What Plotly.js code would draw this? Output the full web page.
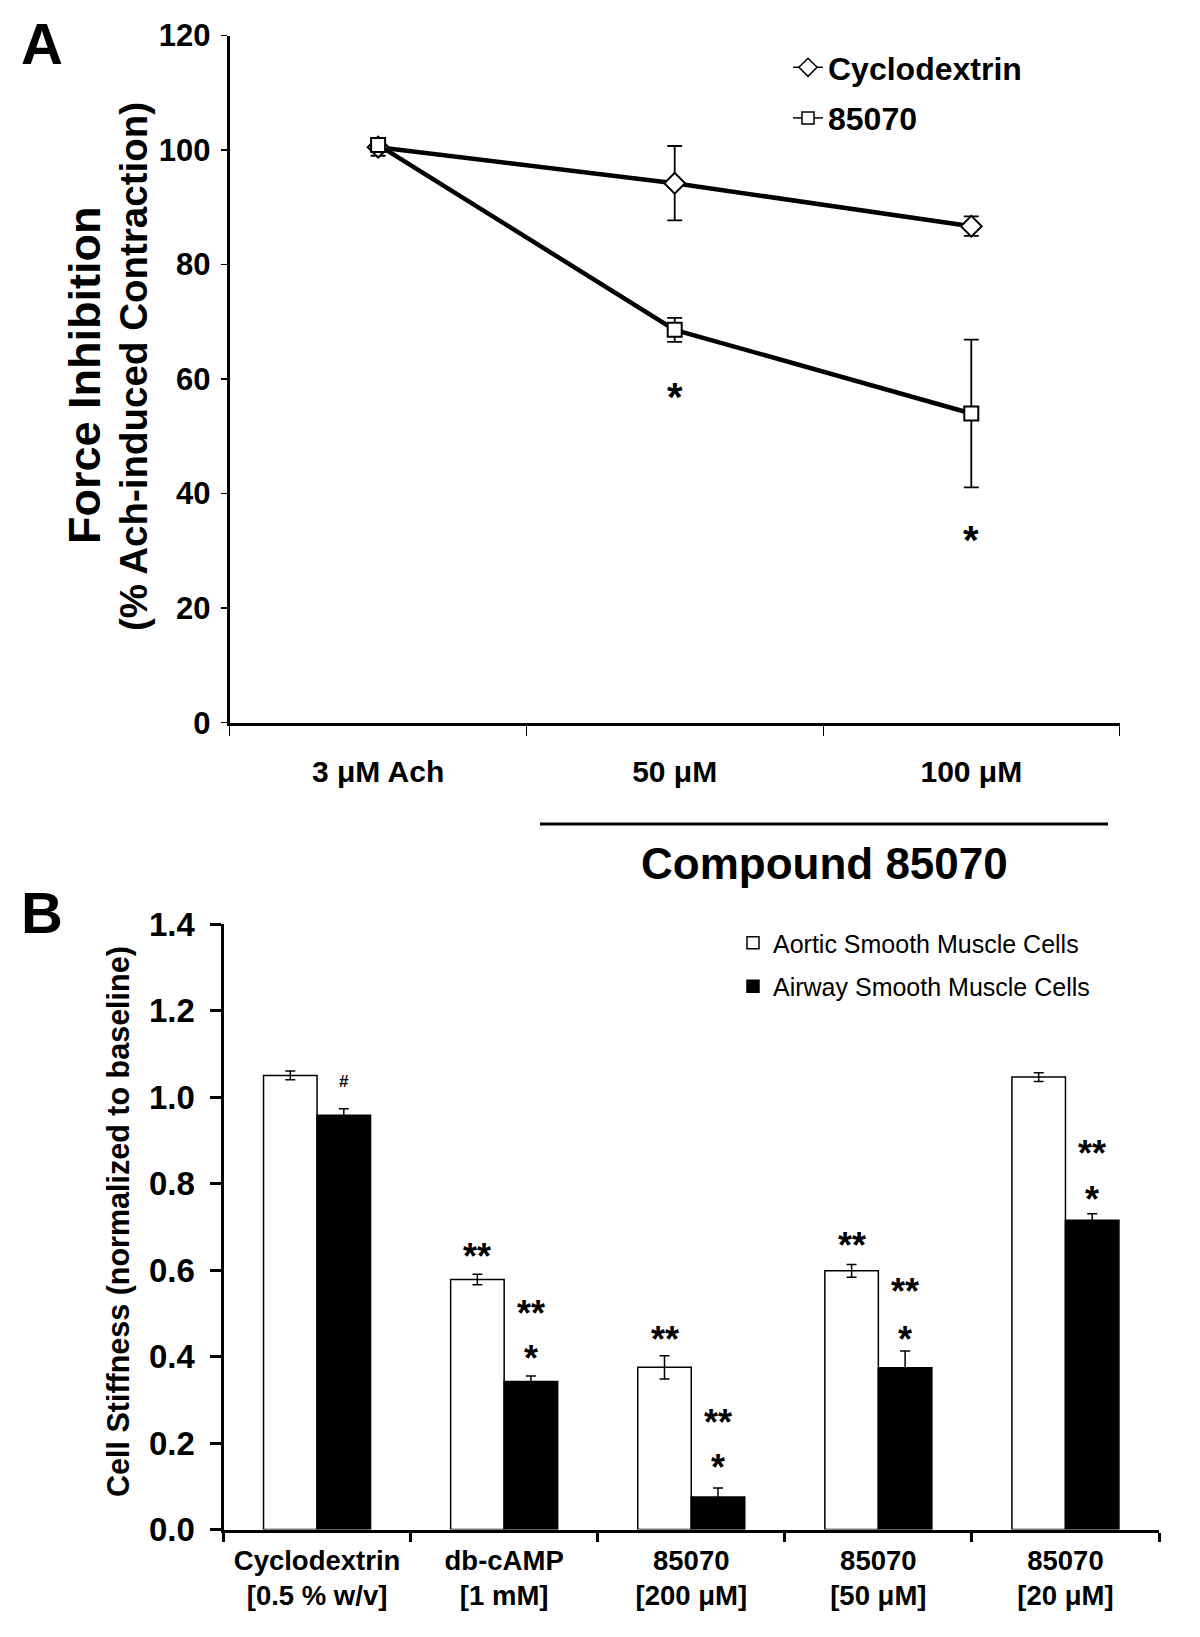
<!DOCTYPE html>
<html><head><meta charset="utf-8">
<script src="https://cdn.plot.ly/plotly-3.0.1.min.js"></script>
<style>html,body{margin:0;padding:0;background:#fff}#chart{width:1200px;height:1637px}</style>
</head><body><div id="chart"></div>
<script>
// ---------- Panel A data ----------
const doseLabels = ['3 μM Ach', '50 μM', '100 μM'];
const cycloForce = [100.5, 94.2, 86.7];
const cycloErr   = [1.5, 6.5, 1.7];
const cmpdForce  = [100.9, 68.6, 54.0];
const cmpdErr    = [1.0, 2.1, 12.9];
const forceStarText = ['', '*', '*'];
const forceStarY    = [null, 58.4, 33.4];

// ---------- Panel B data ----------
const treatLabels = ['Cyclodextrin<br>[0.5 % w/v]', 'db-cAMP<br>[1 mM]', '85070<br>[200 μM]', '85070<br>[50 μM]', '85070<br>[20 μM]'];
const aorticStiff = [1.050, 0.578, 0.375, 0.598, 1.046];
const aorticErr   = [0.010, 0.012, 0.027, 0.015, 0.010];
const airwayStiff = [0.958, 0.342, 0.075, 0.374, 0.715];
const airwayErr   = [0.015, 0.013, 0.021, 0.039, 0.015];
const aorticMarkText = [[], ['**'], ['**'], ['**'], []];
const aorticMarkY    = [[], [0.649], [0.457], [0.676], []];
const airwayMarkText = [['#'], ['**', '*'], ['**', '*'], ['**', '*'], ['**', '*']];
const airwayMarkY    = [[1.035], [0.519, 0.415], [0.267, 0.161], [0.569, 0.457], [0.889, 0.781]];

// ---------- helpers ----------
const W = 1200, H = 1637;
const px = x => x / W, py = y => 1 - y / H;
const FONT = 'Liberation Sans, Arial, Helvetica, sans-serif';
const bold = s => ({family: FONT, size: s, color: '#000', weight: 700});
const plain = s => ({family: FONT, size: s, color: '#000'});

const traces = [
  {type: 'scatter', mode: 'lines+markers', x: doseLabels, y: cycloForce, xaxis: 'x', yaxis: 'y',
   line: {color: '#000', width: 4.5}, showlegend: false, cliponaxis: false,
   marker: {symbol: 'diamond', size: 16, color: '#fff', line: {color: '#000', width: 2}},
   error_y: {type: 'data', array: cycloErr, visible: true, color: '#000', thickness: 1.8, width: 7.5}},
  {type: 'scatter', mode: 'lines+markers', x: doseLabels, y: cmpdForce, xaxis: 'x', yaxis: 'y',
   line: {color: '#000', width: 4.5}, showlegend: false, cliponaxis: false,
   marker: {symbol: 'square', size: 14, color: '#fff', line: {color: '#000', width: 2}},
   error_y: {type: 'data', array: cmpdErr, visible: true, color: '#000', thickness: 1.8, width: 7.5}},
  // legend entries (panel A)
  {type: 'scatter', mode: 'lines+markers', x: [null], y: [null], xaxis: 'x', yaxis: 'y', name: 'Cyclodextrin',
   legend: 'legend', legendgroup: 'a1', line: {color: '#000', width: 1.5},
   marker: {symbol: 'diamond', size: 14, color: '#fff', line: {color: '#000', width: 1.5}}},
  {type: 'scatter', mode: 'lines+markers', x: [null], y: [null], xaxis: 'x', yaxis: 'y', name: '85070',
   legend: 'legend', legendgroup: 'a2', line: {color: '#000', width: 1.5},
   marker: {symbol: 'square', size: 12, color: '#fff', line: {color: '#000', width: 1.5}}},
  // Panel B bars
  {type: 'bar', x: treatLabels, y: aorticStiff, xaxis: 'x2', yaxis: 'y2', name: 'Aortic Smooth Muscle Cells',
   legend: 'legend2', legendgroup: 'b1',
   marker: {color: '#fff', line: {color: '#000', width: 1.5}},
   error_y: {type: 'data', array: aorticErr, visible: true, color: '#000', thickness: 1.5, width: 5}},
  {type: 'bar', x: treatLabels, y: airwayStiff, xaxis: 'x2', yaxis: 'y2', name: 'Airway Smooth Muscle Cells',
   legend: 'legend2', legendgroup: 'b2',
   marker: {color: '#000', line: {color: '#000', width: 1.5}},
   error_y: {type: 'data', array: airwayErr, visible: true, color: '#000', thickness: 1.5, width: 5}}
];

const ann = [
  {text: '<b>A</b>', x: px(42), y: py(44), font: bold(58)},
  {text: '<b>B</b>', x: px(42), y: py(912), font: bold(58)},
  {text: '<b>Force Inhibition</b>', x: px(84), y: py(376), textangle: -90, font: bold(45)},
  {text: '<b>(% Ach-induced Contraction)</b>', x: px(134), y: py(367), textangle: -90, font: bold(38.5)},
  {text: '<b>Compound 85070</b>', x: px(824), y: py(863), font: bold(44)},
  {text: '<b>Cell Stiffness (normalized to baseline)</b>', x: px(118), y: py(1222), textangle: -90, font: bold(30.5)}
].map(a => Object.assign({xref: 'paper', yref: 'paper', showarrow: false, xanchor: 'center', yanchor: 'middle'}, a));

forceStarText.forEach((t, i) => {
  if (t) ann.push({x: i, y: forceStarY[i], xref: 'x', yref: 'y', text: '<b>' + t + '</b>', showarrow: false,
    yshift: -9, font: bold(40)});
});
const half = 26.75;
aorticMarkText.forEach((arr, i) => arr.forEach((t, k) => ann.push({x: i, y: aorticMarkY[i][k], xref: 'x2', yref: 'y2',
  xshift: -half, yshift: -8, text: '<b>' + t + '</b>', showarrow: false, font: bold(36)})));
airwayMarkText.forEach((arr, i) => arr.forEach((t, k) => ann.push({x: i, y: airwayMarkY[i][k], xref: 'x2', yref: 'y2',
  xshift: half, yshift: t === '#' ? 0 : -8, text: '<b>' + t + '</b>', showarrow: false, font: bold(t === '#' ? 17 : 36)})));

const axisBase = {showline: true, linecolor: '#000', linewidth: 3, showgrid: false, zeroline: false,
  ticks: 'outside', tickcolor: '#000', fixedrange: true};

const layout = {
  width: W, height: H, margin: {l: 0, r: 0, t: 0, b: 0},
  paper_bgcolor: '#fff', plot_bgcolor: 'rgba(0,0,0,0)',
  font: {family: FONT, color: '#000'},
  barmode: 'group', bargap: 0.428, bargroupgap: 0,
  xaxis: Object.assign({}, axisBase, {domain: [px(229.8), px(1119.6)], anchor: 'y', type: 'category',
    range: [-0.5, 2.5], tickson: 'boundaries', ticklen: 10, tickwidth: 1, tickfont: bold(30), ticklabelstandoff: 20}),
  yaxis: Object.assign({}, axisBase, {domain: [py(722.7), py(35.5)], anchor: 'x', range: [0, 120], dtick: 20, tick0: 0,
    ticklen: 6, tickwidth: 1.5, tickfont: bold(31), ticklabelstandoff: 4}),
  xaxis2: Object.assign({}, axisBase, {domain: [px(223.5), px(1159)], anchor: 'y2', type: 'category',
    range: [-0.5, 4.5], tickson: 'boundaries', ticklen: 9, tickwidth: 3, tickfont: bold(27.5), ticklabelstandoff: 4}),
  yaxis2: Object.assign({}, axisBase, {domain: [py(1529.5), py(924)], anchor: 'x2', range: [0, 1.4], dtick: 0.2, tick0: 0,
    tickformat: '.1f', ticklen: 11, tickwidth: 3, tickfont: bold(33), ticklabelstandoff: 8}),
  legend: {x: px(788), y: py(40), xanchor: 'left', yanchor: 'top', font: bold(32), bgcolor: 'rgba(0,0,0,0)',
    traceorder: 'grouped', tracegroupgap: 6},
  legend2: {x: px(733), y: py(920), xanchor: 'left', yanchor: 'top', font: plain(25), bgcolor: 'rgba(0,0,0,0)',
    traceorder: 'grouped', tracegroupgap: 8},
  shapes: [{type: 'line', xref: 'paper', yref: 'paper', x0: px(540), x1: px(1108), y0: py(824), y1: py(824),
    line: {color: '#000', width: 3}}],
  annotations: ann
};

Plotly.newPlot('chart', traces, layout, {staticPlot: true, displayModeBar: false});
</script>
</body></html>
